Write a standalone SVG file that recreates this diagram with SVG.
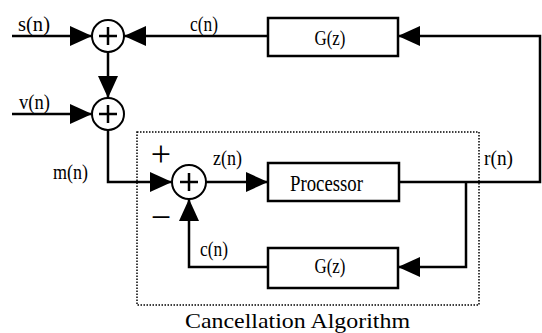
<svg xmlns="http://www.w3.org/2000/svg" width="542" height="333" viewBox="0 0 542 333">
<defs>
<marker id="arr" viewBox="0 0 22 20" refX="22" refY="10" markerWidth="22" markerHeight="20" markerUnits="userSpaceOnUse" orient="auto">
<path d="M0,0 L22,10 L0,20 z" fill="#000"/>
</marker>
<style>
.ln{fill:none;stroke:#000;stroke-width:2.5}
.arr{marker-end:url(#arr)}
.box{fill:#fff;stroke:#000;stroke-width:2.5}
.sum{fill:#fff;stroke:#000;stroke-width:2}
.pl{stroke:#000;stroke-width:2.5}
.t{font-family:"Liberation Serif","Times New Roman",serif;fill:#000}
.lb{font-size:20px}
.bx{font-size:20px;text-anchor:middle}
.sg{font-size:36px;text-anchor:middle}
.dot{fill:none;stroke:#000;stroke-width:1.5;stroke-dasharray:1.5 1.5}
</style>
</defs>
<rect width="542" height="333" fill="#fff"/>

<g id="cancellation-boundary">
<rect class="dot" x="137" y="132" width="342" height="173"/>
<text class="t" x="185" y="328" font-size="21" textLength="225" lengthAdjust="spacingAndGlyphs">Cancellation Algorithm</text>
</g>

<g id="connectors">
<path class="ln arr" d="M12,36 H92"/>
<path class="ln arr" d="M268,36 H124"/>
<path class="ln arr" d="M108,52 V98"/>
<path class="ln arr" d="M12,114 H92"/>
<path class="ln arr" d="M108,130 V182 H172"/>
<path class="ln arr" d="M206,182 H268"/>
<path class="ln arr" d="M398,182 H540 V36 H398"/>
<path class="ln arr" d="M466,182 V267 H398"/>
<path class="ln arr" d="M268,267 H189 V199"/>
</g>

<g id="sum1">
<circle class="sum" cx="108" cy="36" r="16"/>
<path class="pl" d="M99,36 H117 M108,27 V45"/>
</g>
<g id="sum2">
<circle class="sum" cx="108" cy="114" r="16"/>
<path class="pl" d="M99,114 H117 M108,105 V123"/>
</g>
<g id="sum3">
<circle class="sum" cx="189" cy="182" r="17"/>
<path class="pl" d="M180,182 H198 M189,173 V191"/>
</g>

<g id="gz-top">
<rect class="box" x="268" y="18" width="130" height="38"/>
<text class="t bx" x="330" y="45" textLength="31" lengthAdjust="spacingAndGlyphs">G(z)</text>
</g>
<g id="processor">
<rect class="box" x="268" y="163" width="131" height="38"/>
<text class="t" x="290" y="191" font-size="23" textLength="73" lengthAdjust="spacingAndGlyphs">Processor</text>
</g>
<g id="gz-bottom">
<rect class="box" x="268" y="248" width="130" height="40"/>
<text class="t bx" x="330" y="273" textLength="31" lengthAdjust="spacingAndGlyphs">G(z)</text>
</g>

<g id="labels">
<text class="t lb" x="18" y="31" textLength="32" lengthAdjust="spacingAndGlyphs">s(n)</text>
<text class="t lb" x="190" y="31" textLength="28" lengthAdjust="spacingAndGlyphs">c(n)</text>
<text class="t lb" x="19" y="109" textLength="31" lengthAdjust="spacingAndGlyphs">v(n)</text>
<text class="t lb" x="53" y="179" textLength="35" lengthAdjust="spacingAndGlyphs">m(n)</text>
<text class="t lb" x="213" y="165" textLength="29" lengthAdjust="spacingAndGlyphs">z(n)</text>
<text class="t lb" x="484" y="165" textLength="29" lengthAdjust="spacingAndGlyphs">r(n)</text>
<text class="t lb" x="200" y="256" textLength="28" lengthAdjust="spacingAndGlyphs">c(n)</text>
<text class="t sg" x="161" y="166">+</text>
<text class="t sg" x="161" y="229">−</text>
</g>
</svg>
